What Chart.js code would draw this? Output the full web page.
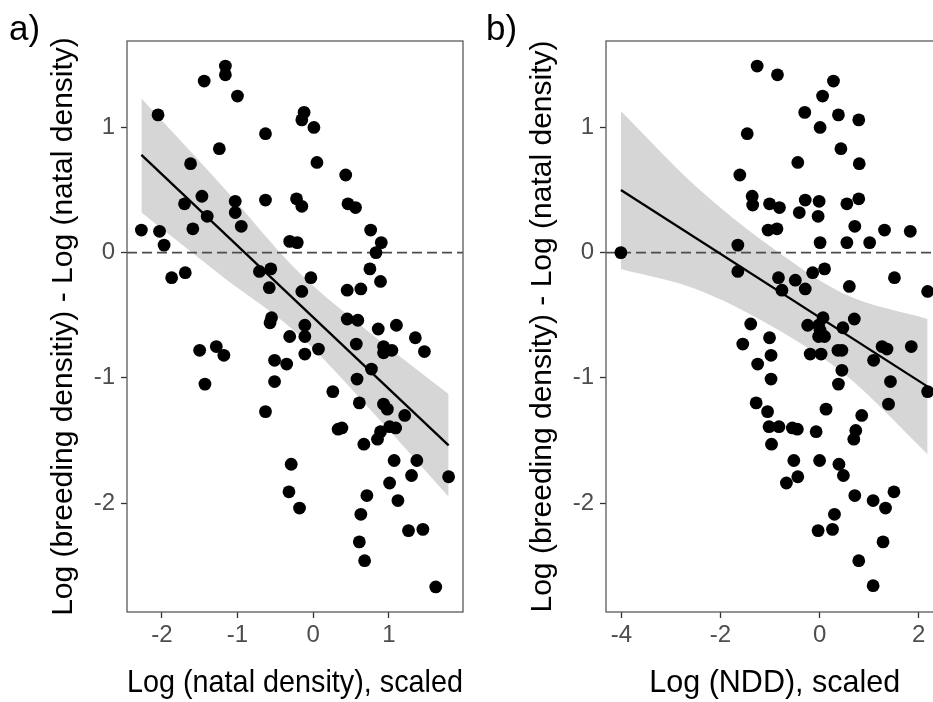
<!DOCTYPE html>
<html>
<head>
<meta charset="utf-8">
<script src="https://cdn.jsdelivr.net/npm/chart.js@4.4.1/dist/chart.umd.min.js"></script>
<style>
  body { margin: 0; overflow: hidden; background: #fff; }
  #wrap { position: relative; width: 933px; height: 702px; overflow: hidden; }
  canvas { position: absolute; top: 0; }
  .tag { position: absolute; top: 10px; font: 35px/1 "Liberation Sans", Arial, sans-serif; color: #000; }
</style>
</head>
<body>
<div id="wrap">
  <canvas id="chartA" width="479" height="702" style="left:0"></canvas>
  <canvas id="chartB" width="479" height="702" style="left:479px"></canvas>
  <div class="tag" style="left:9px">a)</div>
  <div class="tag" style="left:486px">b)</div>
</div>
<script>
// panel a: natal density
let natalX = [-1.16,-1.16,-1.44,-1.00,-2.05,-0.12,-0.15,0.01,-0.63,-1.24,
  0.05,-1.62,0.43,-1.47,-1.70,-1.03,-1.03,-0.63,-0.22,-0.15,
  0.46,0.56,-1.40,-0.95,-1.59,-2.27,-2.03,0.76,-1.97,-0.31,
  -0.21,0.90,0.83,-1.87,-1.69,-0.71,-0.56,-0.58,0.75,0.89,
  -0.03,-0.15,0.45,0.63,-0.55,-0.57,0.45,0.59,-0.11,0.86,
  1.10,-0.31,-0.11,1.35,-1.50,-1.28,-1.18,0.07,-0.11,1.47,
  0.57,0.93,1.04,0.93,-0.51,-0.35,-1.43,-0.51,0.77,0.58,
  0.26,-0.63,0.61,0.93,0.98,1.21,0.33,0.38,1.01,1.09,
  0.89,0.85,0.67,1.07,1.37,1.30,1.01,1.79,-0.29,-0.32,
  -0.18,0.71,0.63,1.12,1.26,1.45,0.61,0.68,1.62];
let natalY = [1.49,1.42,1.37,1.25,1.10,1.12,1.06,1.00,0.95,0.83,
  0.72,0.71,0.62,0.45,0.39,0.41,0.32,0.42,0.43,0.37,
  0.39,0.36,0.29,0.21,0.19,0.18,0.17,0.18,0.06,0.09,
  0.08,0.08,0.00,-0.20,-0.16,-0.15,-0.13,-0.28,-0.13,-0.23,
  -0.20,-0.31,-0.30,-0.29,-0.52,-0.56,-0.53,-0.54,-0.58,-0.61,
  -0.58,-0.67,-0.67,-0.68,-0.78,-0.75,-0.82,-0.77,-0.81,-0.79,
  -0.73,-0.75,-0.78,-0.80,-0.86,-0.89,-1.05,-1.03,-0.93,-1.01,
  -1.11,-1.27,-1.20,-1.21,-1.25,-1.30,-1.41,-1.40,-1.39,-1.40,
  -1.43,-1.49,-1.53,-1.66,-1.66,-1.78,-1.84,-1.79,-1.69,-1.91,
  -2.04,-1.94,-2.09,-1.98,-2.22,-2.21,-2.31,-2.46,-2.67];

// fitted line and confidence band
let fitXA = [-2.27, 1.79];
let fitYA = [0.78, -1.54];
let bandXA = [-2.27, -1.2, -0.2, 0.75, 1.79];
let bandUpA = [1.23, 0.53, -0.15, -0.64, -1.13];
let bandLoA = [0.32, -0.19, -0.65, -1.25, -1.95];

// panel b: NDD
let nddX = [-4.01,-1.26,-0.85,0.28,0.06,-0.30,0.38,0.79,0.01,-1.46,
  0.43,-0.44,0.80,-1.61,-1.36,-1.35,-1.01,-0.81,-0.29,-0.01,
  -0.41,-0.03,0.55,0.79,0.71,-1.04,-0.86,1.31,1.83,-1.65,
  0.01,0.55,1.01,-1.65,-0.14,0.10,-0.83,-0.49,-0.76,-0.29,
  0.60,1.51,2.18,-1.39,-0.24,-0.02,0.07,0.01,0.70,0.47,
  -0.02,0.10,-1.01,-1.55,1.26,1.36,1.85,0.37,0.45,-0.19,
  0.03,-0.98,-1.25,1.09,0.45,-0.98,1.43,0.38,2.18,1.39,
  -1.28,-1.05,0.13,0.85,-1.02,-0.82,-0.55,-0.45,-0.07,0.73,
  0.69,-0.97,-0.52,0.00,0.39,0.48,-0.44,-0.67,0.71,1.08,
  1.50,1.33,0.30,-0.03,0.26,1.28,0.79,1.08];
let nddY = [0.00,1.49,1.42,1.37,1.25,1.12,1.10,1.06,1.00,0.95,
  0.83,0.72,0.71,0.62,0.45,0.38,0.39,0.36,0.42,0.41,
  0.32,0.29,0.39,0.43,0.21,0.18,0.19,0.18,0.17,0.06,
  0.08,0.08,0.08,-0.15,-0.16,-0.13,-0.20,-0.22,-0.30,-0.29,
  -0.27,-0.20,-0.31,-0.57,-0.58,-0.58,-0.52,-0.62,-0.53,-0.60,
  -0.67,-0.67,-0.68,-0.73,-0.75,-0.77,-0.75,-0.78,-0.78,-0.81,
  -0.81,-0.82,-0.89,-0.86,-0.94,-1.01,-1.03,-1.05,-1.11,-1.21,
  -1.20,-1.27,-1.25,-1.30,-1.39,-1.39,-1.40,-1.41,-1.43,-1.42,
  -1.49,-1.53,-1.66,-1.66,-1.69,-1.78,-1.79,-1.84,-1.94,-1.98,
  -1.91,-2.04,-2.09,-2.22,-2.21,-2.31,-2.46,-2.66];

let fitXB = [-4.01, 2.18];
let fitYB = [0.50, -1.07];
let bandXB = [-4.01, -2.5, -1.0, 0.5, 2.18];
let bandUpB = [1.13, 0.53, 0.05, -0.33, -0.53];
let bandLoB = [-0.13, -0.29, -0.58, -0.97, -1.61];

let ticksYVals = [-2, -1, 0, 1];
let ticksXA = [-2, -1, 0, 1];
let ticksXB = [-4, -2, 0, 2];

const FONT = '"Liberation Sans", Arial, sans-serif';

function toPoints(xs, ys) {
  return xs.map((x, i) => ({ x: x, y: ys[i] }));
}

// full panel border drawn on top, ggplot style
const borderPlugin = {
  id: "panelBorder",
  afterDatasetsDraw(chart) {
    let a = chart.chartArea;
    let ctx = chart.ctx;
    ctx.save();
    ctx.strokeStyle = "#5a5a5a";
    ctx.lineWidth = 1.3;
    ctx.strokeRect(a.left, a.top, a.right - a.left, a.bottom - a.top);
    ctx.restore();
  },
};

function makeChart(id, p) {
  return new Chart(document.getElementById(id), {
    type: "scatter",
    data: {
      datasets: [
        {
          data: toPoints(p.xs, p.ys),
          backgroundColor: "#000",
          pointRadius: 6.4,
          pointBorderWidth: 0,
          order: 0,
        },
        {
          type: "line",
          data: toPoints(p.fitX, p.fitY),
          borderColor: "#000",
          borderWidth: 2.3,
          pointRadius: 0,
          order: 1,
        },
        {
          // dashed reference line at y = 0 across the panel
          type: "line",
          data: [{ x: p.xMin, y: 0 }, { x: p.xMax, y: 0 }],
          borderColor: "#4d4d4d",
          borderWidth: 1.8,
          borderDash: [10, 5],
          pointRadius: 0,
          order: 2,
        },
        {
          type: "line",
          data: toPoints(p.bandX, p.bandUp),
          borderWidth: 0,
          pointRadius: 0,
          cubicInterpolationMode: "monotone",
          backgroundColor: "rgba(153,153,153,0.4)",
          fill: "+1",
          order: 3,
        },
        {
          type: "line",
          data: toPoints(p.bandX, p.bandLo),
          borderWidth: 0,
          pointRadius: 0,
          cubicInterpolationMode: "monotone",
          fill: false,
          order: 4,
        },
      ],
    },
    options: {
      responsive: false,
      animation: false,
      devicePixelRatio: 1,
      layout: { padding: { top: 41, right: p.padRight, left: 0, bottom: 0 } },
      plugins: { legend: { display: false }, tooltip: { enabled: false } },
      scales: {
        x: {
          type: "linear",
          min: p.xMin,
          max: p.xMax,
          afterBuildTicks: (s) => { s.ticks = p.xTicks.map((v) => ({ value: v })); },
          afterFit: (s) => { s.height = 90; },
          grid: { drawOnChartArea: false, drawTicks: true, tickLength: 6, tickColor: "#333", tickWidth: 1.3 },
          border: { display: false },
          ticks: { color: "#4d4d4d", padding: 3, font: { family: FONT, size: 24 } },
          title: { display: true, text: p.xTitle, color: "#000", padding: { top: 0, bottom: 0 }, font: { family: FONT, size: 30.5 } },
        },
        y: {
          type: "linear",
          min: -2.87,
          max: 1.69,
          afterBuildTicks: (s) => { s.ticks = ticksYVals.map((v) => ({ value: v })); },
          afterFit: (s) => { s.width = 127; },
          grid: { drawOnChartArea: false, drawTicks: true, tickLength: 6, tickColor: "#333", tickWidth: 1.3 },
          border: { display: false },
          ticks: { color: "#4d4d4d", padding: 6, font: { family: FONT, size: 24 } },
          title: { display: true, text: p.yTitle, color: "#000", padding: { top: 46, bottom: 0 }, font: { family: FONT, size: 30 } },
        },
      },
    },
    plugins: [borderPlugin],
  });
}

makeChart("chartA", {
  xs: natalX, ys: natalY,
  fitX: fitXA, fitY: fitYA,
  bandX: bandXA, bandUp: bandUpA, bandLo: bandLoA,
  xMin: -2.46, xMax: 1.98, xTicks: ticksXA,
  xTitle: "Log (natal density), scaled",
  yTitle: "Log (breeding densitiy) - Log (natal density)",
  padRight: 16,
});
makeChart("chartB", {
  xs: nddX, ys: nddY,
  fitX: fitXB, fitY: fitYB,
  bandX: bandXB, bandUp: bandUpB, bandLo: bandLoB,
  xMin: -4.31, xMax: 2.50, xTicks: ticksXB,
  xTitle: "Log (NDD), scaled",
  yTitle: "Log (breeding density) - Log (natal density)",
  padRight: 14.5,
});
</script>
</body>
</html>
